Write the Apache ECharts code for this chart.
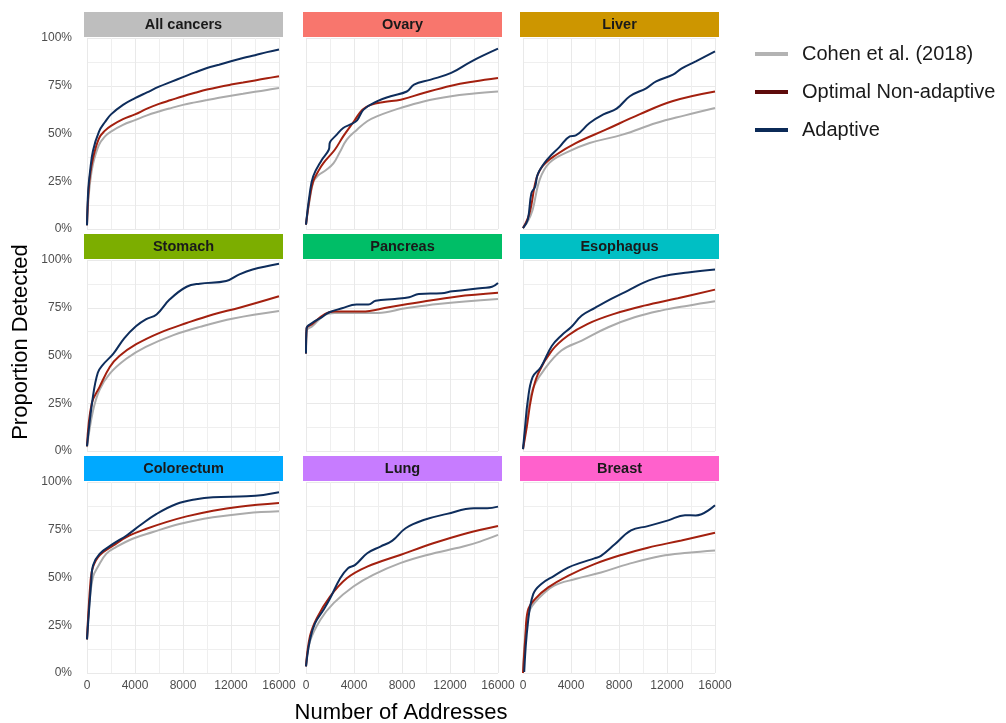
<!DOCTYPE html>
<html>
<head>
<meta charset="utf-8">
<script src="https://cdn.jsdelivr.net/npm/echarts@6/dist/echarts.min.js"></script>
<style>
html,body{margin:0;padding:0;background:#fff;}
#chart{width:1006px;height:723px;}
</style>
</head>
<body>
<div id="chart"></div>
<script>
// ---- Categories / labels ----
const cancers = ['All cancers','Ovary','Liver','Stomach','Pancreas','Esophagus','Colorectum','Lung','Breast'];
const stripColors = ['#bebebe','#F8766D','#CD9600','#7CAE00','#00BE67','#00BFC4','#00A9FF','#C77CFF','#FF61CC'];
const methods = ['Cohen et al. (2018)','Optimal Non-adaptive','Adaptive'];
const xTicks = [0, 4000, 8000, 12000, 16000];
const yTicks = [0, 25, 50, 75, 100];

// ---- Data: [number of addresses, % detected] ----
const allCohen = [[0,2],[100,14],[250,24],[500,34],[1000,44],[1500,48.5],[2000,51],[3000,54.5],[4000,57],[5000,59.5],[6000,61.5],[7000,63.3],[8000,65],[9000,66.3],[10000,67.5],[11000,68.7],[12000,69.8],[13000,70.8],[14000,71.8],[15000,72.8],[16000,73.8]];
const allOptimal = [[0,2],[100,17],[250,28],[500,37],[1000,47.5],[1500,51.5],[2000,54],[3000,57.5],[4000,60],[5000,63],[6000,65.5],[7000,67.5],[8000,69.5],[9000,71.3],[10000,73],[11000,74.4],[12000,75.6],[13000,76.7],[14000,77.8],[15000,78.9],[16000,80]];
const allAdaptive = [[0,2],[100,20],[250,30],[500,41],[1000,51],[1500,56],[2000,60],[3000,65],[4000,68.5],[5000,71.5],[6000,74.5],[7000,77],[8000,79.5],[9000,82],[10000,84.3],[11000,86],[12000,87.8],[13000,89.5],[14000,91],[15000,92.6],[16000,94]];

const ovaryCohen = [[0,2.3],[300,15],[600,24.4],[1000,28],[1700,31],[2300,34.5],[2800,40],[3400,46.8],[4250,52],[5100,56.4],[5900,59],[7900,63.4],[9800,66.8],[12100,69.5],[14000,70.9],[16000,72]];
const ovaryOptimal = [[0,2.3],[300,16],[600,25],[1000,30],[1450,34.5],[2400,41.5],[3100,48.5],[4000,56.4],[4700,62.5],[5400,65],[6500,66.5],[7900,67.7],[9800,71.2],[12100,75],[14000,77.2],[16000,79]];
const ovaryAdaptive = [[0,2.3],[300,18],[600,27.6],[1300,36],[1900,41.5],[2000,45.4],[2500,49],[3100,52.9],[3800,55],[4250,56.9],[4800,62.5],[5900,66.8],[7050,69.5],[8400,72],[9000,75.6],[10400,78.2],[12100,81.7],[13800,87.8],[16000,94.4]];

const liverCohen = [[0,0.5],[400,4],[800,10],[1400,26],[2200,34.6],[3600,40],[5550,45],[8300,49.4],[11100,55.5],[13500,59.5],[16000,63.4]];
const liverOptimal = [[0,0.5],[550,8.4],[1100,26],[1650,33],[2800,39],[4400,45],[6900,52],[9700,60],[12500,67],[16000,72]];
const liverAdaptive = [[0,0.5],[400,5],[700,18.8],[1000,22],[1250,29],[2100,37],[3050,43],[3900,48.5],[4400,49],[5550,55.5],[6700,60],[7800,63],[8900,69.5],[10300,73.8],[11100,77.3],[12500,80.8],[13200,84],[14400,87.8],[16000,93]];

const stomachCohen = [[0,2],[500,21],[1050,32],[1900,40.5],[3300,48.4],[4900,54.5],[7200,60.7],[9400,65],[12200,69.4],[16000,73.3]];
const stomachOptimal = [[0,2.5],[400,25],[1050,33.6],[1900,44],[2700,49.7],[4100,55.9],[6100,62],[8300,67],[10500,71.5],[12700,75],[16000,81]];
const stomachAdaptive = [[0,2.5],[500,28.7],[900,41],[1300,45],[2200,51],[3100,59],[4100,65.4],[4900,68.9],[5800,71.5],[6900,79.4],[8300,86],[9400,87.6],[11600,89],[12700,92.5],[13800,95],[16000,98]];

const pancreasCohen = [[0,51],[50,63],[500,65.2],[1600,71.4],[2400,72.3],[6000,72.3],[8300,74.7],[11000,77],[16000,79.6]];
const pancreasOptimal = [[0,51],[50,64.3],[500,66.4],[1600,71.8],[2400,73],[4650,73],[6900,75.3],[9700,78.2],[12500,80.8],[16000,82.8]];
const pancreasAdaptive = [[0,51],[50,64.3],[500,67],[1300,70],[1900,72.5],[3000,74.7],[4200,76.7],[5200,76.7],[5800,78.7],[7400,79.6],[8600,80.5],[9400,82.2],[11300,82.6],[12200,83.6],[14700,85.4],[15500,86],[16000,88]];

const esophagusCohen = [[0,1],[150,8],[400,20],[850,33],[1700,42],[3200,52.6],[4900,57.8],[7100,64.8],[9300,70],[11500,73.5],[13750,76.1],[16000,78.4]];
const esophagusOptimal = [[0,1],[300,12],[700,28.2],[1250,40.4],[2400,52.6],[3750,60.5],[5400,66.6],[7600,71.8],[10100,76.1],[12900,80],[16000,84.5]];
const esophagusAdaptive = [[0,1],[150,11],[400,26.5],[800,38.7],[1500,44],[2400,55],[3200,60.5],[4000,64.8],[4900,70.9],[6000,74.9],[7350,79.6],[8750,84],[10100,88.3],[11500,91.3],[13750,93.5],[16000,95]];

const colorectumCohen = [[0,17.6],[200,36.3],[500,50.3],[900,55.5],[1600,62.4],[2450,66],[3800,70.3],[5500,73.8],[7700,78],[10500,81.5],[13300,83.7],[16000,84.7]];
const colorectumOptimal = [[0,17.6],[300,48.5],[500,55.5],[1050,61.6],[2200,66.8],[3550,72],[4950,75.5],[6600,79],[8300,82],[10500,85],[12700,87.1],[16000,89]];
const colorectumAdaptive = [[0,17.6],[360,48.5],[500,56.3],[1050,62.4],[2200,67.7],[3300,72],[4400,77.2],[5800,83.3],[7450,88.5],[9100,91],[10500,92],[13300,92.5],[14700,93.2],[16000,94.6]];

const lungCohen = [[0,3.5],[330,16.5],[1200,27.9],[2300,36.6],[3950,45.3],[5600,51.4],[7850,57.5],[10100,61.8],[13100,66.2],[14500,68.8],[16000,72.3]];
const lungOptimal = [[0,3.5],[330,19.2],[900,28.7],[2000,40],[3400,49.6],[5100,55.7],[7850,61.8],[10600,67.9],[13400,73.2],[16000,77]];
const lungAdaptive = [[0,3.5],[330,17.4],[750,26],[1450,33],[2000,39],[2850,49.6],[3500,54.9],[4100,56.6],[5100,62.7],[6200,66.2],[7200,69.3],[8300,75.8],[9800,80.1],[11750,83.3],[14000,86.2],[15100,86.2],[16000,87.1]];

const breastCohen = [[0,0],[200,20.5],[550,32.6],[1250,38.7],[2600,45.7],[4300,49.1],[6500,52.6],[8750,57],[11500,61.3],[13750,63],[16000,64.2]];
const breastOptimal = [[0,0],[200,18.8],[400,32.6],[1000,38.7],[2100,44.8],[3750,50.9],[5950,57],[8200,61.8],[10400,65.6],[13200,69.4],[16000,73.4]];
const breastAdaptive = [[100,0.5],[400,25.7],[850,41.3],[1500,46.5],[2600,50.9],[3750,55.2],[4850,57.8],[5950,60],[6500,61.3],[7650,67.4],[9000,74.7],[10400,76.9],[12100,79.9],[13500,82.6],[14400,82.5],[16000,87.8]];

const panelData = [
  [allCohen, allOptimal, allAdaptive],
  [ovaryCohen, ovaryOptimal, ovaryAdaptive],
  [liverCohen, liverOptimal, liverAdaptive],
  [stomachCohen, stomachOptimal, stomachAdaptive],
  [pancreasCohen, pancreasOptimal, pancreasAdaptive],
  [esophagusCohen, esophagusOptimal, esophagusAdaptive],
  [colorectumCohen, colorectumOptimal, colorectumAdaptive],
  [lungCohen, lungOptimal, lungAdaptive],
  [breastCohen, breastOptimal, breastAdaptive]
];

// ---- Styling / layout ----
const lineColors = ['#ababab', '#a3200f', '#0e2d5c'];
const legendColors = ['#b3b3b3', '#5e0b0b', '#0b2a57'];
const FONT = '"Liberation Sans", Arial, Helvetica, sans-serif';
const colLeft = [87, 306, 523];
const rowTop = [38, 260, 482];
const W = 192, H = 191;

const grids = [], xAxes = [], yAxes = [], series = [], graphics = [];
cancers.forEach((name, i) => {
  const r = Math.floor(i / 3), c = i % 3;
  grids.push({ left: colLeft[c], top: rowTop[r], width: W, height: H, containLabel: false });
  const splitCol = '#e9e9e9';
  xAxes.push({
    type: 'value', gridIndex: i, min: xTicks[0], max: xTicks[xTicks.length - 1],
    interval: xTicks[1] - xTicks[0],
    axisLine: { show: false }, axisTick: { show: false },
    axisLabel: { show: r === 2, color: '#4d4d4d', fontSize: 12, fontFamily: FONT, margin: 7,
      showMinLabel: true, showMaxLabel: true, formatter: v => String(v) },
    splitLine: { show: true, lineStyle: { color: splitCol, width: 1 } },
    minorTick: { show: false, splitNumber: 2 },
    minorSplitLine: { show: true, lineStyle: { color: '#efefef', width: 1 } }
  });
  yAxes.push({
    type: 'value', gridIndex: i, min: yTicks[0], max: yTicks[yTicks.length - 1],
    interval: yTicks[1] - yTicks[0],
    axisLine: { show: false }, axisTick: { show: false },
    axisLabel: { show: c === 0, color: '#4d4d4d', fontSize: 12, fontFamily: FONT, margin: 15, formatter: '{value}%' },
    splitLine: { show: true, lineStyle: { color: splitCol, width: 1 } },
    minorTick: { show: false, splitNumber: 2 },
    minorSplitLine: { show: true, lineStyle: { color: '#efefef', width: 1 } }
  });
  methods.forEach((m, k) => {
    series.push({
      type: 'line', name: m, xAxisIndex: i, yAxisIndex: i,
      data: panelData[i][k], showSymbol: false, symbol: 'none',
      smooth: 0.4,
      color: lineColors[k],
      lineStyle: { color: lineColors[k], width: 2 },
      z: 2 + k
    });
  });
  graphics.push({
    type: 'group', left: colLeft[c] - 3, top: rowTop[r] - 26,
    children: [
      { type: 'rect', shape: { x: 0, y: 0, width: 199, height: 25 }, style: { fill: stripColors[i] } },
      { type: 'text', x: 99.5, y: 12.5, style: { text: name, font: 'bold 14.5px ' + FONT, fill: '#1a1a1a', textAlign: 'center', textVerticalAlign: 'middle' } }
    ]
  });
});

graphics.push({
  type: 'text', x: 21, y: 342, rotation: Math.PI / 2,
  style: { text: 'Proportion Detected', font: '22px ' + FONT, fill: '#000', textAlign: 'center', textVerticalAlign: 'middle' }
});
graphics.push({
  type: 'text', x: 401, y: 713,
  style: { text: 'Number of Addresses', font: '22px ' + FONT, fill: '#000', textAlign: 'center', textVerticalAlign: 'middle' }
});

const chart = echarts.init(document.getElementById('chart'), null, { renderer: 'canvas' });
chart.setOption({
  animation: false,
  backgroundColor: '#ffffff',
  grid: grids,
  xAxis: xAxes,
  yAxis: yAxes,
  series: series,
  graphic: graphics,
  legend: {
    orient: 'vertical', left: 750, top: 38,
    icon: 'rect', itemWidth: 33, itemHeight: 4, itemGap: 16,
    textStyle: { fontSize: 20, fontFamily: FONT, color: '#1a1a1a', lineHeight: 22, padding: [0, 0, 0, 9] },
    selectedMode: false,
    data: methods.map((m, k) => ({ name: m, itemStyle: { color: legendColors[k] } }))
  }
});
</script>
</body>
</html>
